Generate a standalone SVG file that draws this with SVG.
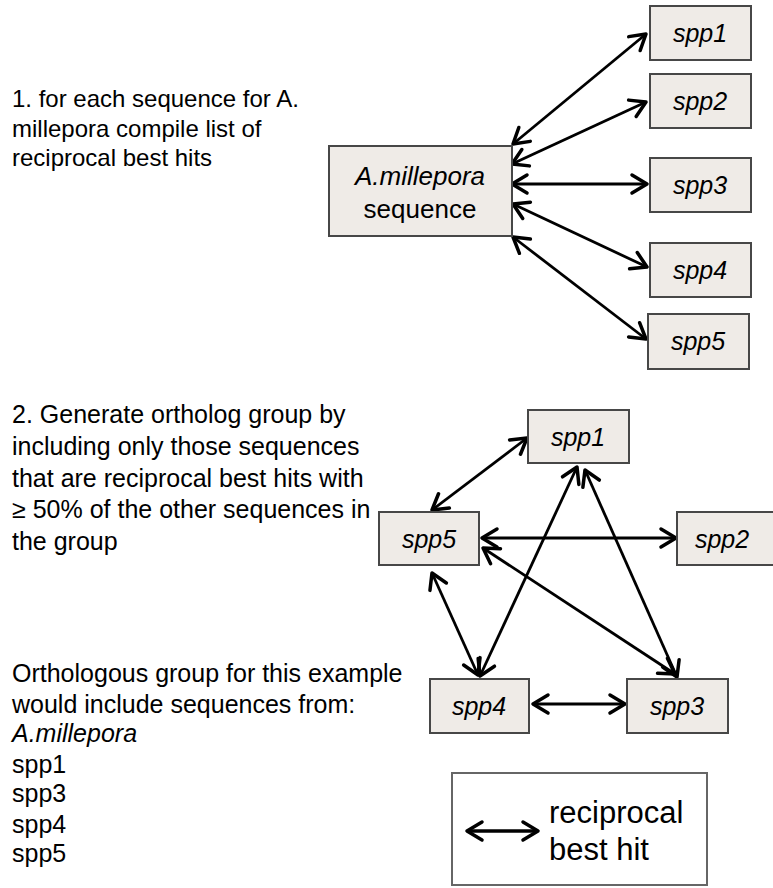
<svg xmlns="http://www.w3.org/2000/svg" width="773" height="888" viewBox="0 0 773 888">
<style>
.box{fill:#efebe7;stroke:#474747;stroke-width:2}
.lbl{font-family:"Liberation Sans",Arial,sans-serif;font-style:italic;font-size:25px;fill:#000;text-anchor:middle}
.txt{font-family:"Liberation Sans",Arial,sans-serif;font-size:25px;fill:#000}
.con{stroke:#000;stroke-width:2.8;fill:none;marker-start:url(#ah);marker-end:url(#ah)}
</style>
<defs>
<marker id="ah" markerUnits="userSpaceOnUse" viewBox="-20 -13 24 26" refX="0" refY="0" markerWidth="24" markerHeight="26" orient="auto-start-reverse" overflow="visible">
<polyline points="-15,-9 0,0 -15,9" fill="none" stroke="#000" stroke-width="3.5" stroke-linecap="round" stroke-linejoin="round"/>
</marker>
</defs>
<rect width="773" height="888" fill="#fff"/>

<g id="text1" class="txt">
<text x="12" y="107" style="font-size:24px">1. for each sequence for A.</text>
<text x="12" y="137" style="font-size:24px">millepora compile list of</text>
<text x="12" y="166" style="font-size:24px">reciprocal best hits</text>
</g>

<g id="text2" class="txt">
<text x="12" y="423">2. Generate ortholog group by</text>
<text x="12" y="455">including only those sequences</text>
<text x="12" y="487">that are reciprocal best hits with</text>
<text x="12" y="518">≥ 50% of the other sequences in</text>
<text x="12" y="550">the group</text>
</g>

<g id="text3" class="txt">
<text x="12" y="682">Orthologous group for this example</text>
<text x="12" y="713">would include sequences from:</text>
<text x="12" y="742" font-style="italic">A.millepora</text>
<text x="12" y="773">spp1</text>
<text x="12" y="802">spp3</text>
<text x="12" y="833">spp4</text>
<text x="12" y="862">spp5</text>
</g>

<g id="connectors">
<line class="con" x1="513" y1="144" x2="646" y2="34"/>
<line class="con" x1="512" y1="164" x2="646" y2="102"/>
<line class="con" x1="512" y1="184" x2="647" y2="184"/>
<line class="con" x1="513" y1="204" x2="647" y2="267"/>
<line class="con" x1="513" y1="237" x2="646" y2="339"/>

<line class="con" x1="432" y1="510" x2="527" y2="438"/>
<line class="con" x1="482" y1="538" x2="676" y2="538"/>
<line class="con" x1="577" y1="467" x2="480" y2="676"/>
<line class="con" x1="585" y1="470" x2="677" y2="677"/>
<line class="con" x1="483" y1="548" x2="675" y2="674"/>
<line class="con" x1="432" y1="573" x2="478" y2="675"/>
<line class="con" x1="533" y1="704" x2="625" y2="704"/>
</g>

<g id="amillepora">
<rect class="box" x="329" y="146" width="183" height="90"/>
<text class="lbl" x="420" y="185" style="font-size:26px">A.millepora</text>
<text x="420" y="218" style="font-family:'Liberation Sans',Arial,sans-serif;font-size:26px;fill:#000;text-anchor:middle">sequence</text>
</g>
<g id="t-spp1"><rect class="box" x="650" y="6" width="101" height="54"/><text class="lbl" x="700" y="42">spp1</text></g>
<g id="t-spp2"><rect class="box" x="650" y="74" width="101" height="54"/><text class="lbl" x="700" y="110">spp2</text></g>
<g id="t-spp3"><rect class="box" x="650" y="158" width="101" height="54"/><text class="lbl" x="700" y="194">spp3</text></g>
<g id="t-spp4"><rect class="box" x="650" y="243" width="101" height="54"/><text class="lbl" x="700" y="279">spp4</text></g>
<g id="t-spp5"><rect class="box" x="648" y="314" width="101" height="55"/><text class="lbl" x="698" y="350">spp5</text></g>

<g id="b-spp1"><rect class="box" x="528" y="410" width="101" height="53"/><text class="lbl" x="578" y="446">spp1</text></g>
<g id="b-spp5"><rect class="box" x="379" y="512" width="100" height="53"/><text class="lbl" x="429" y="548">spp5</text></g>
<g id="b-spp2"><rect class="box" x="677" y="512" width="100" height="53"/><text class="lbl" x="722" y="548">spp2</text></g>
<g id="b-spp4"><rect class="box" x="430" y="679" width="99" height="54"/><text class="lbl" x="479" y="715">spp4</text></g>
<g id="b-spp3"><rect class="box" x="627" y="679" width="101" height="54"/><text class="lbl" x="677" y="715">spp3</text></g>

<g id="legend">
<rect x="452" y="773" width="255" height="112" fill="#fff" stroke="#666" stroke-width="2"/>
<line x1="467" y1="831" x2="538" y2="831" stroke="#000" stroke-width="3.5" marker-start="url(#ah)" marker-end="url(#ah)"/>
<text x="549" y="823" style="font-family:'Liberation Sans',Arial,sans-serif;font-size:31px;fill:#000">reciprocal</text>
<text x="549" y="860" style="font-family:'Liberation Sans',Arial,sans-serif;font-size:31px;fill:#000">best hit</text>
</g>
</svg>
